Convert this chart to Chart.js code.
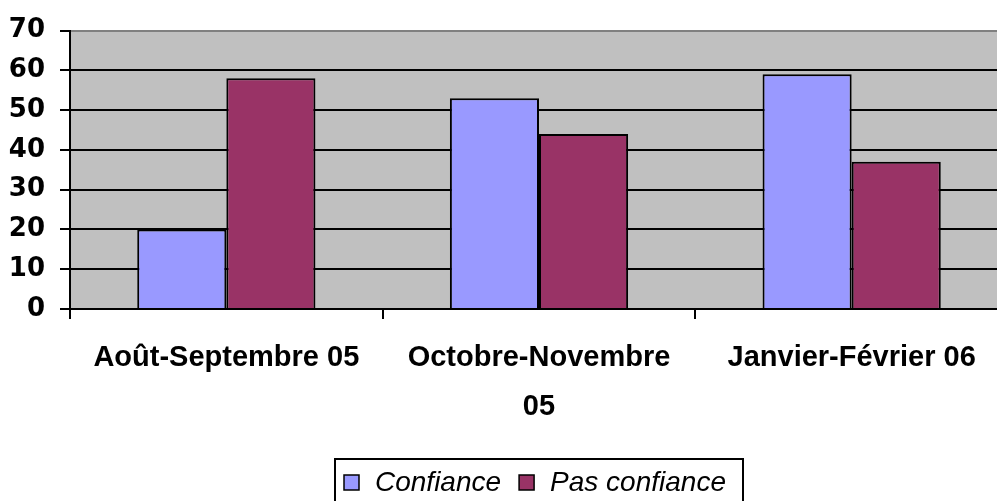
<!DOCTYPE html>
<html>
<head>
<meta charset="utf-8">
<script src="https://cdn.jsdelivr.net/npm/chart.js@4"></script>
<style>
html,body{margin:0;padding:0;background:#fff;overflow:hidden;}
canvas{display:block;}
</style>
</head>
<body>
<canvas id="c" width="1010" height="501" style="width:1010px;height:501px"></canvas>
<script>
const categories = [["Août-Septembre 05"], ["Octobre-Novembre", "05"], ["Janvier-Février 06"]];
const seriesNames = ["Confiance", "Pas confiance"];
const confiance = [20, 53, 59];
const pasConfiance = [58, 44, 37];
const yTicks = [0, 10, 20, 30, 40, 50, 60, 70];

const plotBg = {
  id: 'plotBg',
  beforeDraw(chart) {
    const {ctx, chartArea: a} = chart;
    ctx.save();
    ctx.fillStyle = '#C0C0C0';
    ctx.fillRect(a.left, a.top, a.right - a.left, a.bottom - a.top);
    ctx.restore();
  }
};

const boxLegend = {
  id: 'boxLegend',
  afterDraw(chart) {
    const ctx = chart.ctx;
    ctx.save();
    const bx = 335, by = 459, bw = 408, bh = 60;
    ctx.strokeStyle = '#000';
    ctx.lineWidth = 2;
    ctx.strokeRect(bx, by, bw, bh);
    ctx.font = 'italic 28px "Liberation Sans", Arial, sans-serif';
    ctx.textBaseline = 'middle';
    let x = 344;
    const cy = 482;
    chart.data.datasets.forEach((ds, i) => {
      ctx.fillStyle = ds.backgroundColor;
      ctx.fillRect(x, cy - 7, 15, 15);
      ctx.lineWidth = 1.5;
      ctx.strokeStyle = '#000';
      ctx.strokeRect(x, cy - 7, 15, 15);
      ctx.fillStyle = '#000';
      ctx.fillText(ds.label, x + 31, cy + 1);
      x += 31 + ctx.measureText(ds.label).width + 18;
    });
    ctx.restore();
  }
};

new Chart(document.getElementById('c'), {
  type: 'bar',
  data: {
    labels: categories,
    datasets: [
      {label: seriesNames[0], data: confiance, backgroundColor: '#9999FF', borderColor: '#000', borderWidth: 2},
      {label: seriesNames[1], data: pasConfiance, backgroundColor: '#993366', borderColor: '#000', borderWidth: 2}
    ]
  },
  options: {
    responsive: false,
    animation: false,
    layout: {padding: {top: 27, left: 0, right: 2, bottom: 0}},
    plugins: {legend: {display: false}, tooltip: {enabled: false}},
    datasets: {bar: {categoryPercentage: 0.57, barPercentage: 1.0}},
    scales: {
      x: {
        grid: {drawOnChartArea: false, drawTicks: true, tickLength: 10, color: '#000', lineWidth: 2},
        border: {color: '#000', width: 2},
        ticks: {color: '#000', font: {family: '"Liberation Sans", Arial, sans-serif', size: 29, weight: 'bold', lineHeight: 1.7}, padding: 14, maxRotation: 0, autoSkip: false},
        afterFit(s) { s.height = 192; }
      },
      y: {
        min: 0, max: 70,
        afterBuildTicks(s) { s.ticks = yTicks.map(v => ({value: v})); },
        grid: {
          color: c => (c.tick && c.tick.value === 70) ? '#808080' : '#000',
          tickColor: '#000',
          lineWidth: 2, tickLength: 10
        },
        border: {color: '#000', width: 2},
        ticks: {color: '#000', font: {family: '"DejaVu Sans", Verdana, sans-serif', size: 26, weight: 'bold'}, padding: 15},
        afterFit(s) { s.width = 70; }
      }
    }
  },
  plugins: [plotBg, boxLegend]
});
</script>
</body>
</html>
